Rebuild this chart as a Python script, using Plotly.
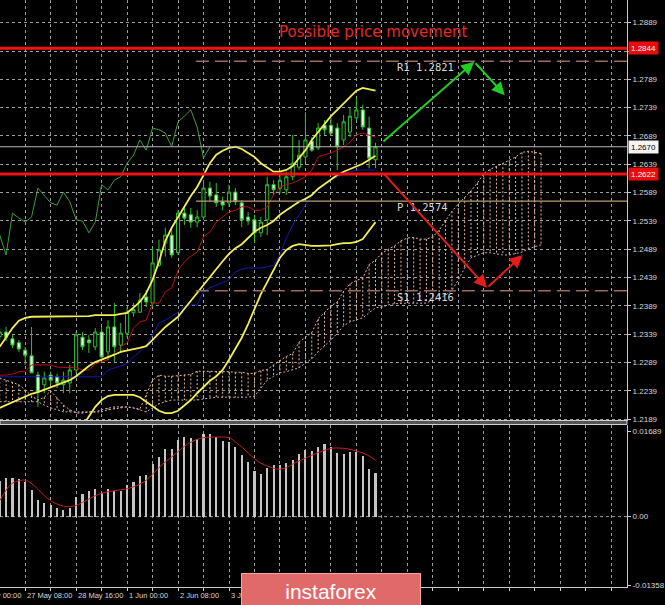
import plotly.graph_objects as go

# ---------------- data (bar index 0 = 26 May 08:00 H4 bar; index -1 partly off-screen) ----------------
first_bar = -1
candle_open = [1.2335, 1.2343, 1.2331, 1.2324, 1.2311, 1.2301, 1.2267, 1.2250, 1.2267, 1.2264,
               1.2250, 1.2253, 1.2276, 1.2334, 1.2329, 1.2317, 1.2343, 1.2308, 1.2352, 1.2320,
               1.2341, 1.2377, 1.2378, 1.2405, 1.2394, 1.2461, 1.2500, 1.2514, 1.2483, 1.2553,
               1.2550, 1.2537, 1.2546, 1.2597, 1.2585, 1.2573, 1.2571, 1.2590, 1.2571, 1.2546,
               1.2541, 1.2518, 1.2541, 1.2603, 1.2597, 1.2594, 1.2617, 1.2634, 1.2652, 1.2680,
               1.2668, 1.2708, 1.2708, 1.2703, 1.2682, 1.2696, 1.2721, 1.2735, 1.2703, 1.2647]
candle_high = [1.2350, 1.2352, 1.2338, 1.2329, 1.2317, 1.2352, 1.2273, 1.2273, 1.2273, 1.2269,
               1.2273, 1.2285, 1.2343, 1.2343, 1.2338, 1.2350, 1.2352, 1.2364, 1.2394, 1.2359,
               1.2387, 1.2394, 1.2412, 1.2417, 1.2491, 1.2506, 1.2527, 1.2527, 1.2558, 1.2567,
               1.2562, 1.2558, 1.2611, 1.2608, 1.2606, 1.2582, 1.2603, 1.2597, 1.2576, 1.2555,
               1.2550, 1.2546, 1.2617, 1.2611, 1.2624, 1.2626, 1.2691, 1.2682, 1.2731, 1.2687,
               1.2712, 1.2717, 1.2721, 1.2712, 1.2726, 1.2738, 1.2756, 1.2744, 1.2723, 1.2677]
candle_low = [1.2329, 1.2327, 1.2315, 1.2308, 1.2285, 1.2271, 1.2211, 1.2235, 1.2250, 1.2244,
              1.2235, 1.2235, 1.2271, 1.2311, 1.2306, 1.2311, 1.2297, 1.2293, 1.2290, 1.2306,
              1.2334, 1.2370, 1.2377, 1.2387, 1.2387, 1.2458, 1.2476, 1.2474, 1.2479, 1.2532,
              1.2527, 1.2528, 1.2541, 1.2573, 1.2564, 1.2558, 1.2564, 1.2567, 1.2528, 1.2532,
              1.2500, 1.2511, 1.2514, 1.2585, 1.2588, 1.2585, 1.2611, 1.2629, 1.2643, 1.2661,
              1.2664, 1.2691, 1.2690, 1.2629, 1.2673, 1.2687, 1.2717, 1.2700, 1.2632, 1.2632]
candle_close = [1.2343, 1.2334, 1.2320, 1.2313, 1.2302, 1.2271, 1.2237, 1.2262, 1.2258, 1.2253,
                1.2258, 1.2276, 1.2338, 1.2317, 1.2324, 1.2343, 1.2299, 1.2352, 1.2317, 1.2341,
                1.2378, 1.2383, 1.2399, 1.2396, 1.2465, 1.2488, 1.2514, 1.2479, 1.2553, 1.2544,
                1.2537, 1.2546, 1.2597, 1.2583, 1.2571, 1.2567, 1.2590, 1.2573, 1.2541, 1.2539,
                1.2518, 1.2537, 1.2603, 1.2594, 1.2611, 1.2617, 1.2641, 1.2655, 1.2682, 1.2664,
                1.2703, 1.2700, 1.2694, 1.2670, 1.2714, 1.2724, 1.2735, 1.2705, 1.2650, 1.2670]

tenkan = [1.2267, 1.2267, 1.2269, 1.2273, 1.2273, 1.2285, 1.2285, 1.2285, 1.2285, 1.2281,
          1.2281, 1.2280, 1.2280, 1.2276, 1.2276, 1.2287, 1.2290, 1.2294, 1.2306, 1.2317,
          1.2324, 1.2350, 1.2361, 1.2364, 1.2394, 1.2394, 1.2414, 1.2421, 1.2452, 1.2467,
          1.2477, 1.2484, 1.2511, 1.2520, 1.2537, 1.2546, 1.2555, 1.2558, 1.2564, 1.2564,
          1.2558, 1.2558, 1.2564, 1.2585, 1.2599, 1.2603, 1.2606, 1.2611, 1.2617, 1.2629,
          1.2652, 1.2656, 1.2659, 1.2664, 1.2670, 1.2678, 1.2691, 1.2694, 1.2691, 1.2687]
kijun = [1.2264, 1.2264, 1.2264, 1.2264, 1.2264, 1.2264, 1.2264, 1.2264, 1.2264, 1.2264,
         1.2264, 1.2264, 1.2264, 1.2264, 1.2264, 1.2264, 1.2264, 1.2276, 1.2280, 1.2283,
         1.2287, 1.2299, 1.2308, 1.2320, 1.2338, 1.2359, 1.2364, 1.2371, 1.2378, 1.2389,
         1.2391, 1.2391, 1.2414, 1.2421, 1.2426, 1.2431, 1.2435, 1.2449, 1.2454, 1.2456,
         1.2456, 1.2456, 1.2458, 1.2461, 1.2479, 1.2509, 1.2532, 1.2550, 1.2567, 1.2583,
         1.2594, 1.2604, 1.2611, 1.2617, 1.2622, 1.2626, 1.2629, 1.2629, 1.2629, 1.2629]

bb_upper = [1.2317, 1.2333, 1.2350, 1.2363, 1.2368, 1.2370, 1.2370, 1.2370, 1.2370, 1.2370,
            1.2370, 1.2370, 1.2371, 1.2371, 1.2371, 1.2373, 1.2373, 1.2373, 1.2373, 1.2375,
            1.2377, 1.2386, 1.2396, 1.2412, 1.2435, 1.2467, 1.2504, 1.2527, 1.2546, 1.2564,
            1.2583, 1.2599, 1.2620, 1.2641, 1.2656, 1.2663, 1.2668, 1.2670, 1.2666, 1.2659,
            1.2652, 1.2641, 1.2633, 1.2626, 1.2626, 1.2629, 1.2636, 1.2649, 1.2664, 1.2682,
            1.2696, 1.2710, 1.2724, 1.2735, 1.2746, 1.2758, 1.2769, 1.2774, 1.2772, 1.2769]
bb_middle = [1.2209, 1.2214, 1.2220, 1.2225, 1.2230, 1.2234, 1.2237, 1.2241, 1.2246, 1.2250,
             1.2253, 1.2258, 1.2265, 1.2274, 1.2283, 1.2290, 1.2294, 1.2299, 1.2303, 1.2308,
             1.2311, 1.2313, 1.2315, 1.2318, 1.2329, 1.2341, 1.2352, 1.2361, 1.2370, 1.2384,
             1.2398, 1.2414, 1.2428, 1.2442, 1.2454, 1.2468, 1.2481, 1.2491, 1.2498, 1.2509,
             1.2520, 1.2527, 1.2532, 1.2539, 1.2550, 1.2558, 1.2566, 1.2573, 1.2578, 1.2585,
             1.2596, 1.2604, 1.2611, 1.2620, 1.2626, 1.2631, 1.2636, 1.2640, 1.2647, 1.2654]
bb_lower = [1.2101, 1.2096, 1.2089, 1.2087, 1.2093, 1.2098, 1.2105, 1.2112, 1.2122, 1.2130,
            1.2137, 1.2147, 1.2160, 1.2177, 1.2195, 1.2211, 1.2223, 1.2230, 1.2232, 1.2232,
            1.2232, 1.2232, 1.2228, 1.2220, 1.2211, 1.2204, 1.2200, 1.2200, 1.2204, 1.2213,
            1.2223, 1.2235, 1.2246, 1.2257, 1.2265, 1.2276, 1.2294, 1.2313, 1.2333, 1.2357,
            1.2385, 1.2410, 1.2431, 1.2452, 1.2474, 1.2488, 1.2495, 1.2498, 1.2496, 1.2495,
            1.2495, 1.2495, 1.2496, 1.2498, 1.2500, 1.2500, 1.2502, 1.2507, 1.2521, 1.2537]

# Senkou spans (already shifted forward 26 bars), bar -1 .. 84
span_a = [1.2262, 1.2258, 1.2255, 1.2250, 1.2241, 1.2230, 1.2223, 1.2228, 1.2239, 1.2227,
          1.2214, 1.2206, 1.2200, 1.2200, 1.2202, 1.2202, 1.2202, 1.2206, 1.2207, 1.2209,
          1.2211, 1.2209, 1.2207, 1.2232, 1.2258, 1.2267, 1.2265, 1.2265, 1.2266, 1.2268,
          1.2268, 1.2274, 1.2274, 1.2274, 1.2274, 1.2273, 1.2273, 1.2272, 1.2272, 1.2270,
          1.2270, 1.2275, 1.2277, 1.2285, 1.2293, 1.2300, 1.2305, 1.2325, 1.2334, 1.2342,
          1.2366, 1.2377, 1.2389, 1.2396, 1.2415, 1.2428, 1.2434, 1.2438, 1.2462, 1.2470,
          1.2482, 1.2489, 1.2495, 1.2504, 1.2509, 1.2510, 1.2507, 1.2507, 1.2511, 1.2523,
          1.2539, 1.2556, 1.2569, 1.2581, 1.2592, 1.2606, 1.2623, 1.2630, 1.2635, 1.2641,
          1.2646, 1.2652, 1.2660, 1.2662, 1.2660, 1.2658]
span_b = [1.2220, 1.2220, 1.2220, 1.2220, 1.2220, 1.2220, 1.2220, 1.2214, 1.2209, 1.2206,
          1.2202, 1.2202, 1.2202, 1.2202, 1.2202, 1.2202, 1.2206, 1.2209, 1.2211, 1.2211,
          1.2211, 1.2209, 1.2206, 1.2202, 1.2209, 1.2216, 1.2220, 1.2223, 1.2223, 1.2223,
          1.2223, 1.2223, 1.2225, 1.2227, 1.2228, 1.2228, 1.2228, 1.2228, 1.2228, 1.2228,
          1.2230, 1.2244, 1.2258, 1.2265, 1.2271, 1.2273, 1.2276, 1.2280, 1.2288, 1.2296,
          1.2308, 1.2318, 1.2329, 1.2341, 1.2354, 1.2361, 1.2364, 1.2368, 1.2377, 1.2386,
          1.2387, 1.2391, 1.2393, 1.2394, 1.2394, 1.2394, 1.2394, 1.2394, 1.2400, 1.2403,
          1.2408, 1.2417, 1.2435, 1.2456, 1.2474, 1.2479, 1.2483, 1.2483, 1.2481, 1.2479,
          1.2479, 1.2481, 1.2484, 1.2490, 1.2493, 1.2497]
chikou_shift = 26

macd_main = [0.00707, 0.00773, 0.00773, 0.00740, 0.00675, 0.00524, 0.00334, 0.00269, 0.00236, 0.00170,
             0.00138, 0.00170, 0.00380, 0.00445, 0.00498, 0.00550, 0.00459, 0.00550, 0.00511, 0.00511,
             0.00629, 0.00694, 0.00806, 0.00825, 0.01035, 0.01186, 0.01343, 0.01330, 0.01507, 0.01572,
             0.01546, 0.01526, 0.01624, 0.01624, 0.01572, 0.01493, 0.01474, 0.01382, 0.01212, 0.01081,
             0.00904, 0.00852, 0.00969, 0.01015, 0.01015, 0.01068, 0.01120, 0.01231, 0.01317, 0.01297,
             0.01376, 0.01428, 0.01376, 0.01264, 0.01231, 0.01277, 0.01284, 0.01205, 0.00950, 0.00858]
macd_signal = [0.00314, 0.00524, 0.00662, 0.00707, 0.00721, 0.00655, 0.00544, 0.00413, 0.00314, 0.00249,
               0.00210, 0.00197, 0.00223, 0.00282, 0.00347, 0.00413, 0.00459, 0.00491, 0.00511, 0.00531,
               0.00550, 0.00590, 0.00642, 0.00721, 0.00838, 0.00969, 0.01081, 0.01179, 0.01284, 0.01389,
               0.01467, 0.01526, 0.01559, 0.01572, 0.01572, 0.01572, 0.01559, 0.01480, 0.01376, 0.01258,
               0.01146, 0.01055, 0.01002, 0.00956, 0.00937, 0.00969, 0.01035, 0.01100, 0.01153, 0.01212,
               0.01264, 0.01310, 0.01349, 0.01356, 0.01349, 0.01330, 0.01297, 0.01258, 0.01199, 0.01114]

time_labels = ["26 May 00:00", "27 May 08:00", "28 May 16:00", "1 Jun 00:00", "2 Jun 08:00",
               "3 Jun 16:00"]
time_label_bars = [-5, 3, 11, 19, 27, 35]
price_tick_vals = [1.2189, 1.2239, 1.2289, 1.2339, 1.2389, 1.2439, 1.2489, 1.2539, 1.2589,
                   1.2639, 1.2689, 1.2739, 1.2789, 1.2839, 1.2889]
price_tick_text = ["1.2189", "1.2239", "1.2289", "1.2339", "1.2389", "1.2439", "1.2489", "1.2539",
                   "1.2589", "1.2639", "1.2689", "1.2739", "1.2789", "1.2839", "1.2889"]
macd_tick_vals = [0.01689, 0.0, -0.01358]
macd_tick_text = ["0.01689", "0.00", "-0.01358"]

level_red_top = 1.2844
level_red = 1.2622
level_bid = 1.2670
pivot_names = ["R1", "P", "S1"]
pivot_levels = [1.2821, 1.2574, 1.2416]
pivot_start_bar = 29.8
pivot_label_bar = 61

green_path_bars = [59.0, 73.5, 78.3]
green_path_prices = [1.2677, 1.2820, 1.2761]
red_path_bars = [59.2, 75.5, 81.1]
red_path_prices = [1.2624, 1.2421, 1.2479]

# ---------------- figure ----------------
X = list(range(first_bar, first_bar + len(candle_open)))
XF = list(range(first_bar, first_bar + len(span_a)))
XMIN, XMAX = -0.956, 97.49


def xp(j):
    return (j - XMIN) / (XMAX - XMIN)


GRID = "#9c9c9c"
AXC = "#c8c8c8"
TXT = "#d8d8d8"
GREEN = "#30c030"
CLOUD_UP = "#e6b498"
CLOUD_DN = "#c8a8b8"

fig = go.Figure()

# Ichimoku cloud hatching
for col, cond in ((CLOUD_UP, lambda a, b: a >= b), (CLOUD_DN, lambda a, b: a < b)):
    hx, hy = [], []
    for j, a, b in zip(XF, span_a, span_b):
        if cond(a, b):
            hx += [j, j, None]
            hy += [a, b, None]
    fig.add_trace(go.Scatter(x=hx, y=hy, mode="lines", line=dict(color=col, width=1, dash="2px,2px"),
                             hoverinfo="skip"))
fig.add_trace(go.Scatter(x=XF, y=span_a, mode="lines", line=dict(color=CLOUD_UP, width=1, dash="2px,2px")))
fig.add_trace(go.Scatter(x=XF, y=span_b, mode="lines", line=dict(color=CLOUD_DN, width=1, dash="2px,2px")))

# candles
fig.add_trace(go.Candlestick(
    x=X, open=candle_open, high=candle_high, low=candle_low, close=candle_close,
    increasing=dict(line=dict(color=GREEN, width=1), fillcolor="black"),
    decreasing=dict(line=dict(color=GREEN, width=1), fillcolor="#e4f6e4"),
    whiskerwidth=0))

# chikou span (close shifted back)
fig.add_trace(go.Scatter(x=[j - chikou_shift for j in X[chikou_shift:]], y=candle_close[chikou_shift:],
                         mode="lines", line=dict(color="#3c9e3c", width=1)))
fig.add_trace(go.Scatter(x=X, y=tenkan, mode="lines", line=dict(color="#b81010", width=1)))
fig.add_trace(go.Scatter(x=X, y=kijun, mode="lines", line=dict(color="#1818b0", width=1)))
for band in (bb_upper, bb_middle, bb_lower):
    fig.add_trace(go.Scatter(x=X, y=band, mode="lines", line=dict(color="#f2ee58", width=1.8)))

# MACD panel
fig.add_trace(go.Bar(x=X, y=macd_main, width=0.33, marker=dict(color="#c4c4c4", line=dict(width=0)),
                     xaxis="x", yaxis="y2"))
fig.add_trace(go.Scatter(x=X, y=macd_signal, mode="lines", line=dict(color="#c02222", width=1, shape="spline"),
                         xaxis="x", yaxis="y2"))

# ---------------- horizontal objects ----------------
shapes = []
for lvl, col, w in ((level_bid, "#b8b8b8", 1), (level_red_top, "#ee1414", 3), (level_red, "#ee1414", 3)):
    shapes.append(dict(type="line", xref="paper", x0=0, x1=1, yref="y", y0=lvl, y1=lvl,
                       line=dict(color=col, width=w), layer="above"))
for name, lvl in zip(pivot_names, pivot_levels):
    if name == "P":
        ln = dict(color="#b89c6c", width=1.2)
    else:
        ln = dict(color="#9a6a60", width=1.5, dash="13px,6px")
    shapes.append(dict(type="line", xref="x", x0=pivot_start_bar, x1=XMAX, yref="y", y0=lvl, y1=lvl,
                       line=ln, layer="above"))
# MACD zero line
shapes.append(dict(type="line", xref="paper", x0=0, x1=1, yref="y2", y0=0, y1=0,
                   line=dict(color=GRID, width=1, dash="3px,3px"), layer="below"))
# panel separator
PH = 587.0
shapes.append(dict(type="rect", xref="paper", x0=0, x1=1, yref="paper",
                   y0=(PH - 424.5) / PH, y1=(PH - 420.5) / PH,
                   fillcolor="#555555", line=dict(color="#cfcfcf", width=1), layer="above"))

annotations = []
# title
annotations.append(dict(text="Possible price movement", xref="paper", yref="paper",
                        x=376 / 632, y=(PH - 32) / PH, xanchor="center", yanchor="middle", showarrow=False,
                        font=dict(family="DejaVu Sans", size=15, color="#e32a2a")))
# pivot labels
for name, lvl in zip(pivot_names, pivot_levels):
    annotations.append(dict(text=f"{name} {lvl:.4f}", xref="x", yref="y", x=pivot_label_bar, y=lvl,
                            xanchor="left", yanchor="middle", yshift=-6, showarrow=False,
                            font=dict(family="DejaVu Sans Mono", size=10.5, color=TXT)))
# arrows
for bx, py, col in ((green_path_bars, green_path_prices, "#22cc22"), (red_path_bars, red_path_prices, "#e41c1c")):
    for k in range(len(bx) - 1):
        annotations.append(dict(text="", xref="x", yref="y", axref="x", ayref="y",
                                x=bx[k + 1], y=py[k + 1], ax=bx[k], ay=py[k],
                                showarrow=True, arrowhead=2, arrowsize=1.3, arrowwidth=2,
                                arrowcolor=col, standoff=0, startstandoff=0))
# right-side price boxes
for lvl, bg, fg in ((level_red_top, "#e80c0c", "white"), (level_bid, "#f4f4f4", "black"), (level_red, "#e80c0c", "white")):
    annotations.append(dict(text=f"{lvl:.4f}", xref="paper", yref="y", x=1, y=lvl, xanchor="left",
                            yanchor="middle", xshift=1, showarrow=False, bgcolor=bg, borderpad=1,
                            width=27, height=10, font=dict(family="Liberation Sans", size=8, color=fg)))
# time labels
for t, j in zip(time_labels, time_label_bars):
    annotations.append(dict(text=t, xref="paper", yref="paper", x=xp(j), y=0, xanchor="left",
                            yanchor="middle", xshift=0, yshift=-8, showarrow=False,
                            font=dict(family="Liberation Sans", size=7.5, color=TXT)))
# logo
annotations.append(dict(text="instaforex", xref="paper", yref="paper", x=243 / 632, y=(PH - 573) / PH,
                        xanchor="left", yanchor="top", showarrow=False, width=178, height=34,
                        align="center", valign="middle", bgcolor="#e06a6a", bordercolor="#f2a8a8",
                        borderwidth=1, borderpad=0,
                        font=dict(family="Liberation Sans", size=21, color="white")))

fig.update_layout(
    width=665, height=605, margin=dict(l=0, r=33, t=0, b=18),
    paper_bgcolor="black", plot_bgcolor="black", showlegend=False, hovermode=False,
    shapes=shapes, annotations=annotations, bargap=0,
    xaxis=dict(range=[XMIN, XMAX], domain=[0, 1], anchor="y2", tick0=3, dtick=4,
               showgrid=True, gridcolor=GRID, griddash="3px,3px", gridwidth=1,
               showticklabels=False, ticks="outside", ticklen=3, tickcolor=AXC,
               showline=True, linecolor=AXC, linewidth=1, zeroline=False,
               rangeslider=dict(visible=False), fixedrange=True),
    yaxis=dict(domain=[(PH - 421) / PH, 1], range=[1.2186, 1.2929], side="right", anchor="x",
               tickvals=price_tick_vals, ticktext=price_tick_text, showgrid=True, gridcolor=GRID,
               griddash="3px,3px", gridwidth=1, ticks="outside", ticklen=3, tickcolor=AXC,
               showline=True, linecolor=AXC, zeroline=False,
               tickfont=dict(family="Liberation Sans", size=8, color=TXT)),
    yaxis2=dict(domain=[0, (PH - 425) / PH], range=[-0.0139, 0.0181], side="right", anchor="x",
                tickvals=macd_tick_vals, ticktext=macd_tick_text, showgrid=False,
                ticks="outside", ticklen=3, tickcolor=AXC, showline=True, linecolor=AXC,
                zeroline=False, tickfont=dict(family="Liberation Sans", size=8, color=TXT)),
)

fig.write_html("out.html", config={"displayModeBar": False},
               post_script="document.body.style.margin='0px';document.body.style.background='black';")
